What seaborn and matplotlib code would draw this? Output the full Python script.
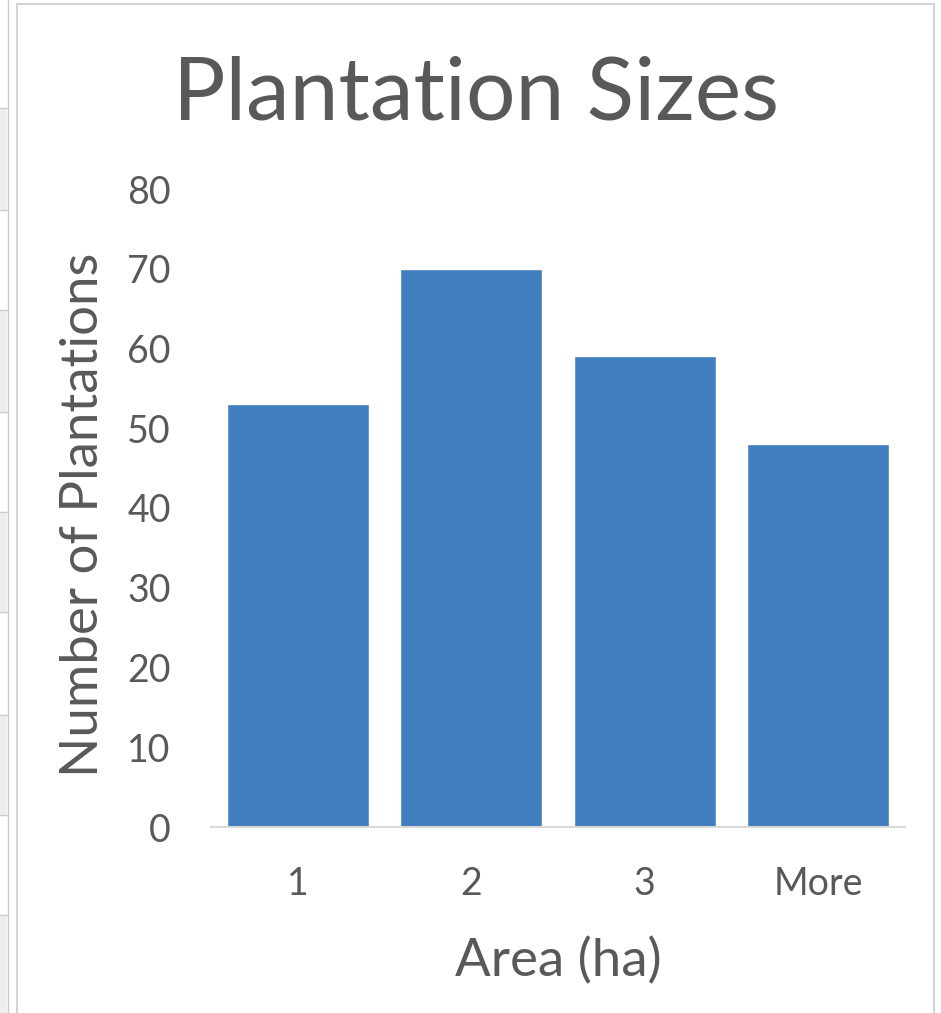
import matplotlib
matplotlib.use("Agg")
import matplotlib.pyplot as plt
import matplotlib.patches as mpatches
import seaborn as sns
import pandas as pd

# dati
aree = ["1", "2", "3", "More"]
conteggi = [53, 70, 59, 48]

df = pd.DataFrame({"Area": aree, "Count": conteggi})

sns.set_style("white")
plt.rcParams["font.family"] = ["Lato", "DejaVu Sans"]

grigio = "#595959"
blu = "#417EBD"

fig = plt.figure(figsize=(9.41, 10.13), dpi=100)

# striscia del foglio di calcolo a sinistra
H = 1013.0
righe = [108, 210, 310, 412, 512, 612, 715, 815, 915, 1013]
for i in range(len(righe) - 1):
    y0, y1 = righe[i], righe[i + 1]
    if i % 2 == 0:
        fig.patches.append(mpatches.Rectangle((0, 1 - y1 / H), 7 / 941, (y1 - y0) / H,
                                              transform=fig.transFigure, color="#eeeeee", lw=0))
    fig.lines.append(plt.Line2D([0, 7 / 941], [1 - y0 / H] * 2, transform=fig.transFigure,
                                color="#cccccc", lw=1))
fig.lines.append(plt.Line2D([7.5 / 941] * 2, [0, 1], transform=fig.transFigure, color="#cccccc", lw=1))
# bordo del grafico
fig.patches.append(mpatches.Rectangle((16.5 / 941, -0.01), (934 - 16.5) / 941, 1 - 4.5 / H + 0.01,
                                      transform=fig.transFigure, fill=False, ec="#d4d4d4", lw=1.5))

ax = fig.add_axes([211 / 941, 186 / 1013, (905 - 211) / 941, (827 - 189) / 1013])
sns.barplot(data=df, x="Area", y="Count", color=blu, width=0.82, saturation=1, ax=ax)

ax.set_ylim(0, 80)
ax.set_xlim(-0.5, 3.5)
ax.set_yticks(range(0, 81, 10))
for s in ["top", "right", "left"]:
    ax.spines[s].set_visible(False)
ax.spines["bottom"].set_color("#d9d9d9")
ax.spines["bottom"].set_linewidth(1.5)
ax.tick_params(axis="both", length=0, labelsize=27, labelcolor=grigio)
ax.tick_params(axis="y", pad=29)
ax.tick_params(axis="x", pad=28)

ax.set_xlabel("Area (ha)", fontsize=38, color=grigio)
ax.set_ylabel("Number of Plantations", fontsize=38, color=grigio)
ax.xaxis.set_label_coords(0.5, -0.173)
ax.yaxis.set_label_coords(-0.15, 0.49)
fig.text(476 / 941, 1 - 95 / H, "Plantation Sizes", ha="center", va="center",
         fontsize=63, color=grigio)

fig.savefig("out.png", dpi=100, facecolor="white")
